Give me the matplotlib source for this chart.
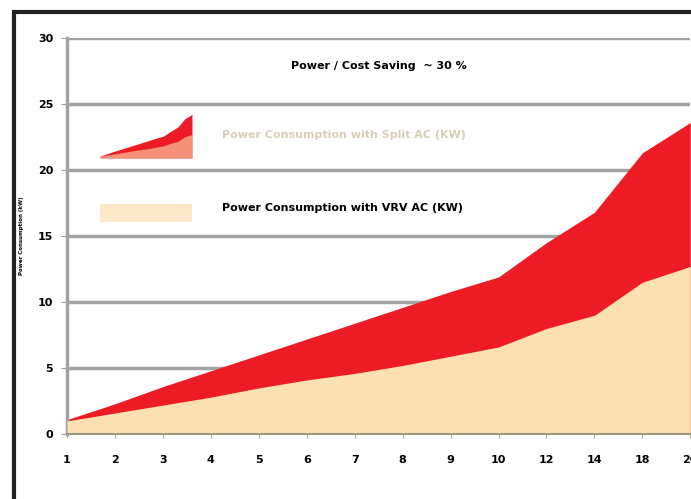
import matplotlib.pyplot as plt
from matplotlib.patches import Rectangle
import numpy as np

# data
hours = ['1', '2', '3', '4', '5', '6', '7', '8', '9', '10', '12', '14', '18', '20']
split_ac = [1.1, 2.3, 3.6, 4.8, 6.0, 7.2, 8.4, 9.6, 10.8, 11.9, 14.5, 16.8, 21.3, 23.6]
vrv_ac = [1.0, 1.6, 2.2, 2.8, 3.5, 4.1, 4.6, 5.2, 5.9, 6.6, 8.0, 9.0, 11.5, 12.7]

red = '#ed1c24'
peach = '#fae0b2'

fig = plt.figure(figsize=(6.91, 4.99), dpi=100)
ax = fig.add_axes([0.097, 0.130, 0.902, 0.794])

x = np.arange(len(hours))
ax.fill_between(x, 0, split_ac, color=red, lw=0, zorder=2)
ax.fill_between(x, 0, vrv_ac, color=peach, lw=0, zorder=3)

ax.set_xlim(0, len(hours) - 1)
ax.set_ylim(0, 30)
ax.set_yticks(range(0, 31, 5))
ax.set_xticks(x)
ax.set_xticklabels(hours)
for t in ax.get_xticklabels() + ax.get_yticklabels():
    t.set_fontweight('bold')
    t.set_fontsize(8)
ax.tick_params(axis='x', length=3, color='#b0b0a0', pad=12)
ax.tick_params(axis='y', length=4, color='#a0a0a0', pad=6)
ax.yaxis.grid(True, color='#a3a3a3', lw=2.5, zorder=1)
ax.set_axisbelow(True)
for s in ['top', 'right']:
    ax.spines[s].set_visible(False)
ax.spines['left'].set_color('#a3a3a3')
ax.spines['left'].set_linewidth(2.5)
ax.spines['bottom'].set_color('#9a9a80')
ax.spines['bottom'].set_linewidth(1.5)
ax.spines['bottom'].set_zorder(5)

ax.set_ylabel('Power Consumption (kW)', fontsize=4, fontweight='bold', labelpad=10)

ax.text(0.5, 0.93, 'Power / Cost Saving  ~ 30 %', transform=ax.transAxes,
        ha='center', va='center', fontsize=8, fontweight='bold')

# legend swatches
ins = fig.add_axes([100 / 691, 1 - 158 / 499, 92 / 691, 48 / 499])
ins.fill_between(x, 0, split_ac, color=red, lw=0)
ins.fill_between(x, 0, vrv_ac, color=peach, lw=0, alpha=0.6)
ins.set_xlim(0, len(hours) - 1)
ins.set_ylim(0, 26)
ins.axis('off')

fig.patches.append(Rectangle((100 / 691, 1 - 222 / 499), 92 / 691, 18 / 499,
                             transform=fig.transFigure, color=peach, alpha=0.7, lw=0))

ax.text(222 / 691, 1 - 135 / 499, 'Power Consumption with Split AC (KW)',
        transform=fig.transFigure, va='center', fontsize=8, fontweight='bold',
        color='#d8cfb8')
ax.text(222 / 691, 1 - 208 / 499, 'Power Consumption with VRV AC (KW)',
        transform=fig.transFigure, va='center', fontsize=8, fontweight='bold',
        color='black')

# black frame around chart
fig.patches.append(Rectangle((14 / 691, -0.05), 1.1, 1 - 12 / 499 + 0.05,
                             transform=fig.transFigure, fill=False,
                             edgecolor='#222222', lw=3))

fig.savefig('out.png', dpi=100)
